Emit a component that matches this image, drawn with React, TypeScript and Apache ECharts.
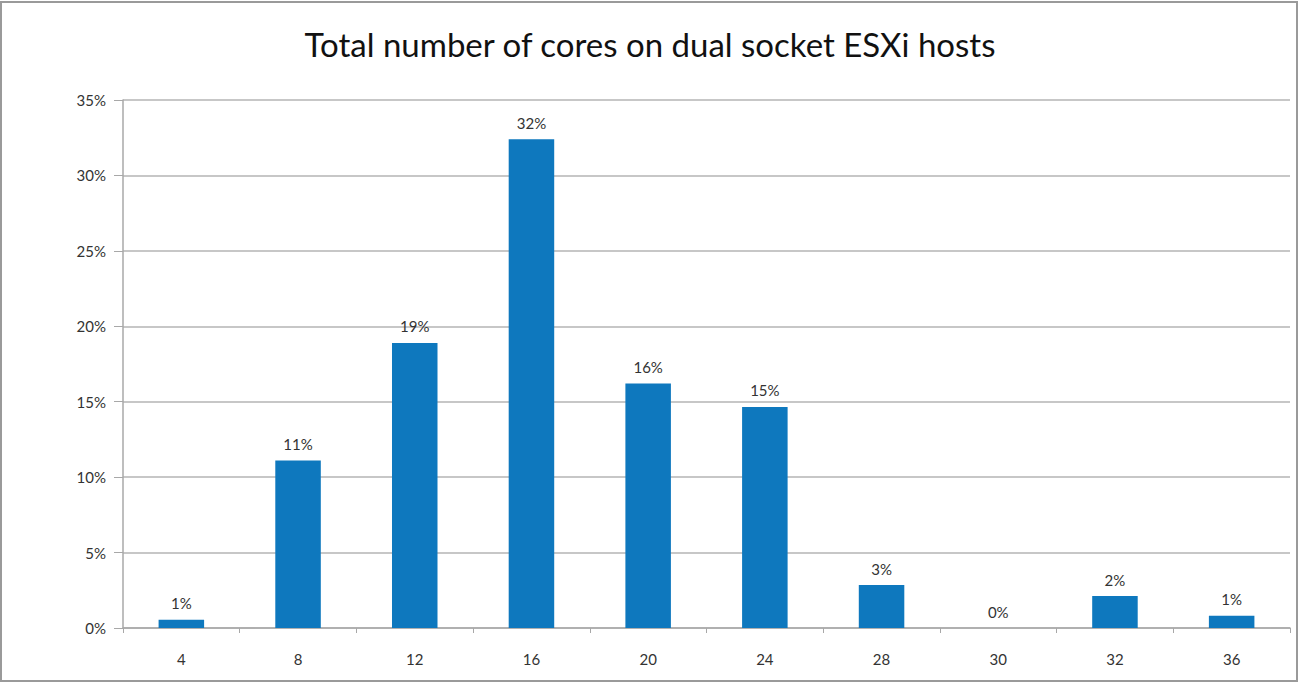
import React, { useEffect, useRef } from "react";
import * as echarts from "echarts";

const categories = ["4", "8", "12", "16", "20", "24", "28", "30", "32", "36"];
const shares = [0.55, 11.1, 18.9, 32.4, 16.2, 14.65, 2.85, 0, 2.12, 0.82];
const yTicks = [0, 5, 10, 15, 20, 25, 30, 35];
const titleText = "Total number of cores on dual socket ESXi hosts";

export default function App() {
  const ref = useRef<HTMLDivElement>(null);
  useEffect(() => {
    if (!ref.current) return;
    const chart = echarts.init(ref.current, null, { renderer: "svg" });
    chart.setOption({
      animation: false,
      backgroundColor: "#ffffff",
      title: {
        text: titleText,
        left: "center",
        top: 22,
        textStyle: { fontFamily: "Lato", fontWeight: "normal", fontSize: 33, color: "#111" },
      },
      graphic: [
        {
          type: "rect",
          shape: { x: 1, y: 2, width: 1296, height: 679 },
          style: { fill: "none", stroke: "#9a9a9a", lineWidth: 2 },
          silent: true,
        },
      ],
      grid: { left: 123, right: 10, top: 100, bottom: 56 },
      xAxis: {
        type: "category",
        data: categories,
        boundaryGap: true,
        axisLine: { lineStyle: { color: "#a8a8a8", width: 1.5 } },
        axisTick: { show: true, alignWithLabel: false, length: 5, lineStyle: { color: "#a8a8a8" } },
        axisLabel: { fontFamily: "Lato", fontSize: 15, color: "#333", margin: 23 },
      },
      yAxis: {
        type: "value",
        min: yTicks[0],
        max: yTicks[yTicks.length - 1],
        interval: 5,
        axisLine: { show: true, lineStyle: { color: "#a8a8a8", width: 1.5 } },
        axisTick: { show: true, length: 9, lineStyle: { color: "#a8a8a8" } },
        splitLine: { show: true, lineStyle: { color: "#b4b4b4", width: 1.5 } },
        axisLabel: {
          fontFamily: "Lato",
          fontSize: 15,
          color: "#333",
          margin: 17,
          formatter: (v: number) => `${v}%`,
        },
      },
      series: [
        {
          type: "bar",
          data: shares,
          barWidth: "39%",
          itemStyle: { color: "#0e78be" },
          label: {
            show: true,
            position: "top",
            distance: 9,
            fontFamily: "Lato",
            fontSize: 15,
            color: "#333",
            formatter: (p: any) => `${Math.round(p.value)}%`,
          },
        },
      ],
    });
    return () => chart.dispose();
  }, []);
  return (
    <div
      ref={ref}
      style={{ position: "fixed", left: 0, top: 0, width: 1300, height: 684 }}
    />
  );
}
